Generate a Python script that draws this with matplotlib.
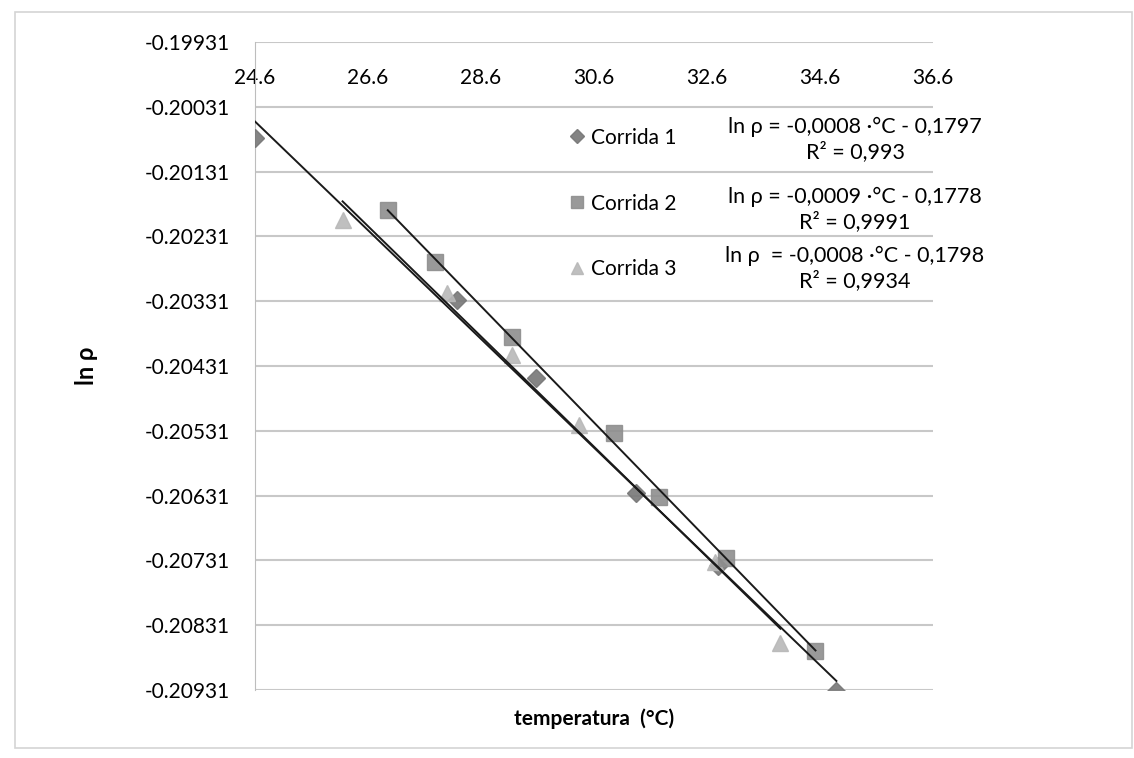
import matplotlib.pyplot as plt
import numpy as np
from matplotlib.patches import Rectangle

plt.rcParams['font.family'] = ['Lato', 'DejaVu Sans']

# Temperatura (°C) y ln ρ para cada corrida
temp_c1 = [24.60, 28.17, 29.58, 31.35, 32.80, 34.89]
lnp_c1 = [-0.20079, -0.20329, -0.20449, -0.20627, -0.20740, -0.20933]

temp_c2 = [26.95, 27.78, 29.15, 30.95, 31.75, 32.93, 34.52]
lnp_c2 = [-0.20190, -0.20271, -0.20386, -0.20534, -0.20633, -0.20727, -0.20871]

temp_c3 = [26.15, 27.99, 29.15, 30.34, 32.75, 33.90]
lnp_c3 = [-0.20206, -0.20318, -0.20414, -0.20522, -0.20733, -0.20858]

labels = ['Corrida 1', 'Corrida 2', 'Corrida 3']
ecuaciones = ['ln ρ = -0,0008 ·°C - 0,1797\nR² = 0,993',
              'ln ρ = -0,0009 ·°C - 0,1778\nR² = 0,9991',
              'ln ρ  = -0,0008 ·°C - 0,1798\nR² = 0,9934']

x_ticks = [24.6, 26.6, 28.6, 30.6, 32.6, 34.6, 36.6]
y_ticks = [-0.20931, -0.20831, -0.20731, -0.20631, -0.20531, -0.20431,
           -0.20331, -0.20231, -0.20131, -0.20031, -0.19931]

fig = plt.figure(figsize=(11.34, 7.58), dpi=100)
ax = fig.add_axes([255 / 1134, 1 - 690 / 758, 678 / 1134, 648 / 758])

# marco exterior del gráfico
fig.patches.append(Rectangle((15 / 1134, 10 / 758), 1117 / 1134, 736 / 758,
                             transform=fig.transFigure, fill=False,
                             edgecolor='#d4d4d4', lw=1.2))

series = [(temp_c1, lnp_c1, 'D', '#777777', 9, 3),
          (temp_c2, lnp_c2, 's', '#8e8e8e', 12, 4),
          (temp_c3, lnp_c3, '^', '#b8b8b8', 12, 3.5)]

for (t, v, m, c, ms, z), lab in zip(series, labels):
    ax.plot(t, v, ls='none', marker=m, color=c, ms=ms, mec=c, label=lab,
            alpha=0.9, zorder=z)

# líneas de tendencia lineales
for t, v, *_ in series:
    a, b = np.polyfit(t, v, 1)
    xx = np.array([min(t), max(t)])
    ax.plot(xx, a * xx + b, color='#1a1a1a', lw=1.4, zorder=5)

ax.set_xlim(24.6, 36.6)
ax.set_ylim(-0.20931, -0.19931)
ax.set_xticks(x_ticks)
ax.set_xticklabels([f'{x:.1f}' for x in x_ticks])
ax.set_yticks(y_ticks)
ax.set_yticklabels([f'{y:.5f}' for y in y_ticks])

ax.tick_params(axis='x', top=True, labeltop=True, bottom=False,
               labelbottom=False, length=0, pad=-33, labelsize=15)
ax.tick_params(axis='y', length=0, pad=18, labelsize=15)

ax.grid(axis='y', color='#c8c8c8', lw=1.5)
ax.set_axisbelow(True)
for s in ['top', 'right', 'bottom']:
    ax.spines[s].set_visible(False)
ax.spines['left'].set_color('#bdbdbd')

ax.set_xlabel('temperatura  (°C)', fontsize=15, fontweight='bold', labelpad=13)
ax.set_ylabel('ln ρ', fontsize=17, fontweight='bold', labelpad=34)

leg = ax.legend(loc='upper left', bbox_to_anchor=(552 / 1134, 1 - 109 / 758),
                bbox_transform=fig.transFigure, frameon=False, fontsize=15,
                labelspacing=2.2, handlelength=0.6, handletextpad=0.35,
                markerscale=0.75)

for ec, yf in zip(ecuaciones, [0.850, 0.742, 0.650]):
    ax.text(0.885, yf, ec, transform=ax.transAxes, ha='center', va='center',
            fontsize=15.5, linespacing=1.25)

fig.savefig('out.png', dpi=100)
